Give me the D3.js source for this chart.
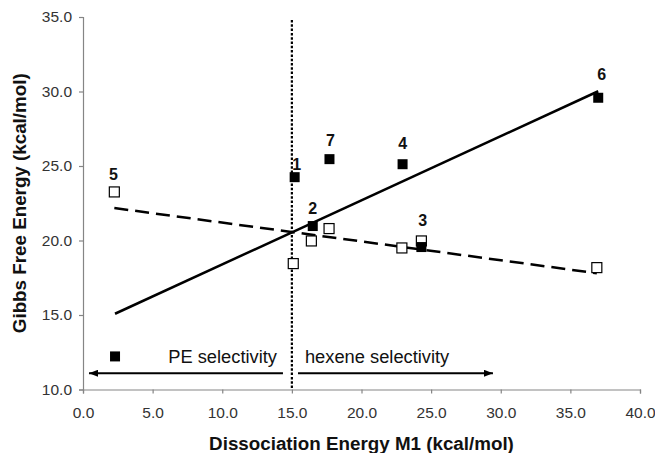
<!DOCTYPE html>
<html>
<head>
<meta charset="utf-8">
<script src="https://cdn.jsdelivr.net/npm/d3@7"></script>
<style>
body{margin:0;background:#fff;}
text{font-family:Arial,"Liberation Sans",sans-serif;}
</style>
</head>
<body>
<script>
var width = 655, height = 453;

// filled squares
var filledX = [15.2, 16.5, 24.3, 22.95, 2.3, 37.0, 17.7];
var filledY = [24.25, 20.97, 19.56, 25.12, 12.22, 29.58, 25.46];
// open squares
var openX = [2.25, 15.1, 16.4, 17.67, 22.9, 24.3, 36.9];
var openY = [23.26, 18.45, 19.97, 20.8, 19.5, 19.97, 18.18];

// complex numbers and where they sit (data units)
var pointLabels = ["1", "2", "3", "4", "5", "6", "7"];
var labelX = [15.35, 16.5, 24.4, 22.96, 2.18, 37.25, 17.77];
var labelY = [25.12, 22.16, 21.36, 26.51, 24.45, 31.17, 26.73];

var xTicks = [0, 5, 10, 15, 20, 25, 30, 35, 40];
var yTicks = [10, 15, 20, 25, 30, 35];

var boundaryX = 15.0;//selectivity border
var boundaryY = [34.8, 10];
var arrowY = 11.09;
var arrowLeft = [14.36, 0.43];//from, to
var arrowRight = [15.44, 29.44];
var regionText = ["PE selectivity", "hexene selectivity"];
var regionTextX = [13.93, 15.94];
var regionTextY = 11.75;

var x = d3.scaleLinear().domain([0, 40]).range([83, 640]);
var y = d3.scaleLinear().domain([10, 35]).range([389.5, 17]);

var svg = d3.select("body").append("svg")
    .attr("width", width)
    .attr("height", height);

var defs = svg.append("defs");
defs.append("marker")//arrow head
    .attr("id", "head")
    .attr("markerUnits", "userSpaceOnUse")
    .attr("viewBox", "0 0 9 7")
    .attr("refX", 9).attr("refY", 3.5)
    .attr("markerWidth", 9).attr("markerHeight", 7)
    .attr("orient", "auto")
    .append("path")
    .attr("d", "M0,0L9,3.5L0,7Z")
    .attr("fill", "#000");

// axes
var xAxis = d3.axisBottom(x).tickValues(xTicks).tickSize(4).tickPadding(13)
    .tickFormat(d3.format(".1f"));
var yAxis = d3.axisLeft(y).tickValues(yTicks).tickSize(4).tickPadding(7)
    .tickFormat(d3.format(".1f"));

var gx = svg.append("g").attr("transform", "translate(0," + y(10) + ")").call(xAxis);
var gy = svg.append("g").attr("transform", "translate(" + x(0) + ",0)").call(yAxis);
[gx, gy].forEach(function(g){
    g.select(".domain").attr("stroke", "#858585").attr("stroke-width", 1.2);
    g.selectAll(".tick line").attr("stroke", "#858585").attr("stroke-width", 1.2);
    g.selectAll(".tick text").attr("fill", "#333").style("font-size", "15.5px")
        .style("font-family", "Arial, 'Liberation Sans', sans-serif");
});

svg.append("text")//x title
    .attr("x", (x(0) + x(40)) / 2).attr("y", 450)
    .attr("text-anchor", "middle")
    .style("font-size", "18.8px").style("font-weight", "bold")
    .attr("fill", "#111")
    .text("Dissociation Energy M1 (kcal/mol)");

svg.append("text")//y title
    .attr("transform", "translate(26," + (y(10) + y(35)) / 2 + ") rotate(-90)")
    .attr("text-anchor", "middle")
    .style("font-size", "18.8px").style("font-weight", "bold")
    .attr("fill", "#111")
    .text("Gibbs Free Energy (kcal/mol)");

// least squares trendline over the x extent of a series
function trend(xs, ys){
    var mx = d3.mean(xs), my = d3.mean(ys);
    var sxy = 0, sxx = 0;
    for(var i = 0; i < xs.length; i++){
        sxy += (xs[i] - mx) * (ys[i] - my);
        sxx += (xs[i] - mx) * (xs[i] - mx);
    }
    var b = sxy / sxx, a = my - b * mx;
    var ext = d3.extent(xs);
    return [[ext[0], a + b * ext[0]], [ext[1], a + b * ext[1]]];
}

var line = d3.line().x(function(d){ return x(d[0]); }).y(function(d){ return y(d[1]); });

// boundary
svg.append("line")
    .attr("x1", x(boundaryX)).attr("x2", x(boundaryX))
    .attr("y1", y(boundaryY[0])).attr("y2", y(boundaryY[1]))
    .attr("stroke", "#000").attr("stroke-width", 2.2)
    .attr("stroke-dasharray", "2.5,1.8");

// arrows
[arrowLeft, arrowRight].forEach(function(a){
    svg.append("line")
        .attr("x1", x(a[0])).attr("x2", x(a[1]))
        .attr("y1", y(arrowY)).attr("y2", y(arrowY))
        .attr("stroke", "#000").attr("stroke-width", 2)
        .attr("marker-end", "url(#head)");
});
svg.selectAll(".region").data(regionText).enter().append("text")
    .attr("x", function(d, i){ return x(regionTextX[i]); })
    .attr("y", y(regionTextY))
    .attr("text-anchor", function(d, i){ return i == 0 ? "end" : "start"; })
    .style("font-size", "18.3px").attr("fill", "#111")
    .text(function(d){ return d; });

// trendlines
svg.append("path").attr("d", line(trend(openX, openY)))
    .attr("fill", "none").attr("stroke", "#000").attr("stroke-width", 2.5)
    .attr("stroke-dasharray", "14,7");
svg.append("path").attr("d", line(trend(filledX, filledY)))
    .attr("fill", "none").attr("stroke", "#000").attr("stroke-width", 2.5);

// open squares
var s = 10;
svg.selectAll(".open").data(openX).enter().append("rect")
    .attr("x", function(d){ return x(d) - s / 2; })
    .attr("y", function(d, i){ return y(openY[i]) - s / 2; })
    .attr("width", s).attr("height", s)
    .attr("fill", "#fff").attr("stroke", "#000").attr("stroke-width", 1.2);
// filled squares
svg.selectAll(".filled").data(filledX).enter().append("rect")
    .attr("x", function(d){ return x(d) - s / 2; })
    .attr("y", function(d, i){ return y(filledY[i]) - s / 2; })
    .attr("width", s).attr("height", s)
    .attr("fill", "#000");

// numbers
svg.selectAll(".num").data(pointLabels).enter().append("text")
    .attr("x", function(d, i){ return x(labelX[i]); })
    .attr("y", function(d, i){ return y(labelY[i]); })
    .attr("dy", "0.36em")
    .attr("text-anchor", "middle")
    .style("font-size", "16px").style("font-weight", "bold")
    .attr("fill", "#111")
    .text(function(d){ return d; });
</script>
</body>
</html>
